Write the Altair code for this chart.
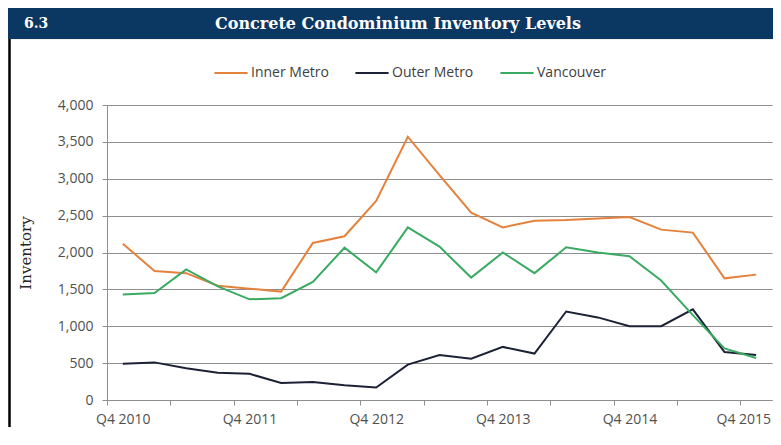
import altair as alt
import pandas as pd

quarters = ["Q4 2010", "Q1 2011", "Q2 2011", "Q3 2011", "Q4 2011", "Q1 2012", "Q2 2012",
            "Q3 2012", "Q4 2012", "Q1 2013", "Q2 2013", "Q3 2013", "Q4 2013", "Q1 2014",
            "Q2 2014", "Q3 2014", "Q4 2014", "Q1 2015", "Q2 2015", "Q3 2015", "Q4 2015"]
series_names = ["Inner Metro", "Outer Metro", "Vancouver"]
inner_metro = [2120, 1750, 1720, 1550, 1510, 1470, 2130, 2220, 2700, 3570, 3050, 2540,
               2340, 2430, 2440, 2460, 2480, 2310, 2270, 1650, 1700]
outer_metro = [490, 510, 430, 370, 355, 230, 245, 200, 170, 480, 610, 560,
               720, 630, 1200, 1120, 1000, 1000, 1230, 650, 610]
vancouver = [1430, 1450, 1770, 1540, 1365, 1380, 1600, 2065, 1730, 2340, 2080, 1660,
             2000, 1720, 2070, 2000, 1950, 1620, 1150, 700, 570]
series_colors = ["#e4823d", "#1c2236", "#3aaa62"]
y_ticks = [0, 500, 1000, 1500, 2000, 2500, 3000, 3500, 4000]
x_tick_labels = ["Q4 2010", "Q4 2011", "Q4 2012", "Q4 2013", "Q4 2014", "Q4 2015"]

W, H = 665, 295

rows = []
for name, vals in zip(series_names, [inner_metro, outer_metro, vancouver]):
    for i, (q, v) in enumerate(zip(quarters, vals)):
        rows.append({"idx": i, "quarter": q, "value": v, "series": name})
df = pd.DataFrame(rows)

# tick positions at category boundaries every 2 quarters; labels every 4 quarters
tick_vals = [i - 0.5 for i in range(0, len(quarters), 2)]
label_expr = "''"
for k, lab in reversed(list(enumerate(x_tick_labels))):
    label_expr = f"datum.value == {k * 4 - 0.5} ? '{lab}' : ({label_expr})"
last_tick = tick_vals[-1]
half_cat = W / len(quarters) / 2

x_enc = alt.X(
    "idx:Q",
    scale=alt.Scale(domain=[-0.5, len(quarters) - 0.5], nice=False, zero=False),
    axis=alt.Axis(values=tick_vals, labelExpr=label_expr,
                  labelOffset={"condition": {"test": f"datum.value == {last_tick}", "value": 3},
                               "value": half_cat},
                  grid=False, tickSize=5, labelPadding=7, title=None, labelFlush=False,
                  labelOverlap=False, labelBound=False),
)
y_enc = alt.Y(
    "value:Q",
    scale=alt.Scale(domain=[0, 4000], nice=False),
    axis=alt.Axis(values=y_ticks, format=",.0f", tickSize=5, labelPadding=9, title="Inventory",
                  titleFont="DejaVu Serif", titleFontSize=15, titleFontWeight="normal",
                  titleColor="#262626", titleX=-74, titleY=H / 2, titleAngle=-90,
                  titleBaseline="bottom", titleAlign="center"),
)

lines = alt.Chart(df).mark_line(strokeWidth=2).encode(
    x=x_enc,
    y=y_enc,
    color=alt.Color(
        "series:N",
        scale=alt.Scale(domain=series_names, range=series_colors),
        legend=alt.Legend(orient="none", legendX=106, legendY=-50, direction="horizontal",
                          title=None, symbolType="stroke", symbolSize=1100,
                          symbolStrokeWidth=2, labelFont="Open Sans", labelFontSize=14,
                          labelColor="#404040", columnPadding=22, labelOffset=2),
    ),
    detail="series:N",
)

one = pd.DataFrame({"k": [0]})
bar = alt.Chart(one).mark_rect(color="#0b3763").encode(
    x=alt.value(-99), x2=alt.value(W + 1), y=alt.value(-97), y2=alt.value(-66)
)
edge = alt.Chart(one).mark_rect(color="#f0f0f0").encode(
    x=alt.value(-99), x2=alt.value(W + 1), y=alt.value(-66), y2=alt.value(-65)
)
border = alt.Chart(one).mark_rule(color="#000000", strokeWidth=2.5).encode(
    x=alt.value(-97.5), y=alt.value(-66), y2=alt.value(H + 30)
)
num = alt.Chart(one).mark_text(text="6.3", color="white", font="DejaVu Serif",
                               fontWeight="bold", fontSize=14, align="left",
                               baseline="middle").encode(x=alt.value(-83), y=alt.value(-81))
ttl = alt.Chart(one).mark_text(text="Concrete Condominium Inventory Levels", color="white",
                               font="DejaVu Serif", fontWeight="bold", fontSize=16,
                               align="center", baseline="middle").encode(
    x=alt.value(291), y=alt.value(-81))

chart = alt.layer(bar, edge, border, num, ttl, lines).properties(
    width=W, height=H,
    autosize=alt.AutoSizeParams(type="none"),
    padding={"left": 99, "top": 97, "right": 1, "bottom": 27},
    background="white",
).configure_view(stroke=None).configure_axis(
    labelFont="Open Sans", labelFontSize=14, labelColor="#505050",
    gridColor="#8f8f8f", gridWidth=1, domainColor="#8f8f8f", tickColor="#8f8f8f",
)

chart.save("out.html", embed_options={"renderer": "svg", "actions": False})
